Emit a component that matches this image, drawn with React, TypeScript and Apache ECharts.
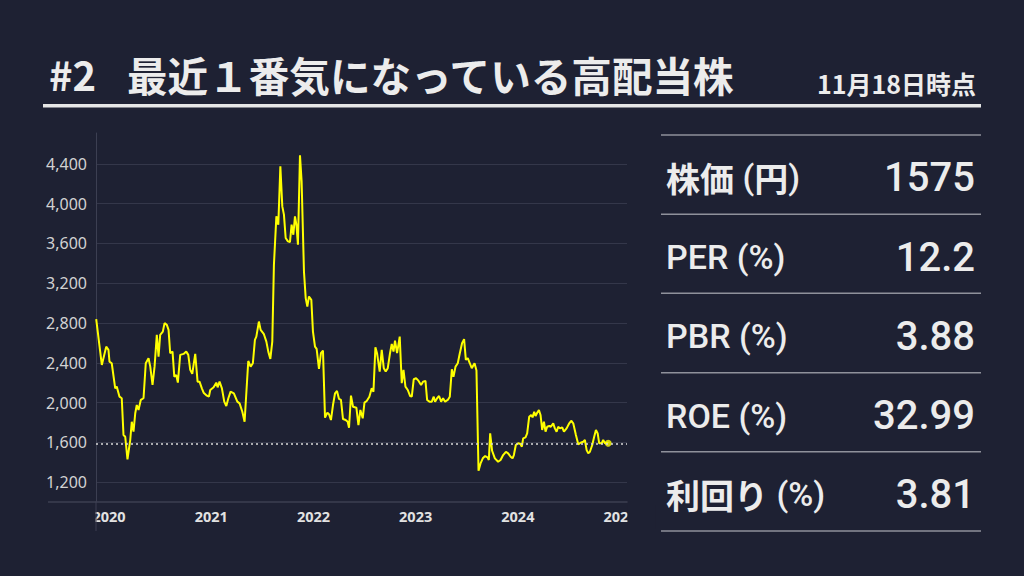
import { useEffect, useRef } from "react";
import * as echarts from "echarts";

const titleNo = "#2";
const titleText = "最近１番気になっている高配当株";
const asOfText = "11月18日時点";

const xTicks = [2020, 2021, 2022, 2023, 2024, 2025];
const yTicks = [1200, 1600, 2000, 2400, 2800, 3200, 3600, 4000, 4400];

// time in fractional years
const years = [
  2019.874, 2019.929, 2019.972, 2019.994, 2020.004, 2020.026, 2020.06, 2020.075, 2020.102, 2020.124,
  2020.141, 2020.158, 2020.18, 2020.207, 2020.222, 2020.239, 2020.256, 2020.271, 2020.288, 2020.31,
  2020.337, 2020.359, 2020.386, 2020.403, 2020.425, 2020.445, 2020.467, 2020.484, 2020.5, 2020.526,
  2020.543, 2020.565, 2020.582, 2020.598, 2020.621, 2020.638, 2020.657, 2020.673, 2020.696, 2020.729,
  2020.755, 2020.775, 2020.794, 2020.814, 2020.843, 2020.866, 2020.885, 2020.908, 2020.925, 2020.957,
  2020.977, 2020.99, 2021.023, 2021.049, 2021.062, 2021.081, 2021.104, 2021.127, 2021.147, 2021.167,
  2021.189, 2021.221, 2021.255, 2021.277, 2021.304, 2021.326, 2021.362, 2021.385, 2021.407, 2021.427,
  2021.441, 2021.466, 2021.483, 2021.515, 2021.539, 2021.558, 2021.578, 2021.597, 2021.613, 2021.637,
  2021.656, 2021.676, 2021.695, 2021.711, 2021.728, 2021.75, 2021.77, 2021.786, 2021.803, 2021.819,
  2021.833, 2021.848, 2021.868, 2021.884, 2021.907, 2021.924, 2021.94, 2021.956, 2021.979, 2021.995,
  2022.015, 2022.031, 2022.054, 2022.073, 2022.093, 2022.113, 2022.136, 2022.152, 2022.171, 2022.191,
  2022.211, 2022.23, 2022.25, 2022.269, 2022.289, 2022.315, 2022.335, 2022.348, 2022.367, 2022.387,
  2022.42, 2022.44, 2022.459, 2022.482, 2022.499, 2022.521, 2022.547, 2022.57, 2022.587, 2022.606,
  2022.622, 2022.648, 2022.668, 2022.688, 2022.707, 2022.727, 2022.749, 2022.766, 2022.783, 2022.798,
  2022.818, 2022.844, 2022.864, 2022.881, 2022.9, 2022.923, 2022.945, 2022.962, 2022.981, 2023.004,
  2023.027, 2023.053, 2023.072, 2023.096, 2023.112, 2023.135, 2023.158, 2023.177, 2023.19, 2023.21,
  2023.229, 2023.249, 2023.268, 2023.288, 2023.314, 2023.334, 2023.354, 2023.37, 2023.39, 2023.412,
  2023.432, 2023.454, 2023.474, 2023.491, 2023.51, 2023.53, 2023.549, 2023.576, 2023.595, 2023.615,
  2023.635, 2023.657, 2023.68, 2023.703, 2023.716, 2023.729, 2023.748, 2023.775, 2023.807, 2023.831,
  2023.856, 2023.883, 2023.905, 2023.929, 2023.948, 2023.961, 2023.98, 2024.003, 2024.026, 2024.039,
  2024.052, 2024.075, 2024.091, 2024.111, 2024.13, 2024.144, 2024.16, 2024.173, 2024.189, 2024.206,
  2024.222, 2024.238, 2024.255, 2024.271, 2024.287, 2024.307, 2024.323, 2024.346, 2024.362, 2024.379,
  2024.395, 2024.411, 2024.434, 2024.451, 2024.477, 2024.503, 2024.522, 2024.542, 2024.568, 2024.591,
  2024.614, 2024.64, 2024.656, 2024.673, 2024.689, 2024.705, 2024.728, 2024.747, 2024.764, 2024.781,
  2024.796, 2024.82, 2024.835, 2024.852, 2024.875, 2024.884,
];

const prices = [
  2838, 2378, 2562, 2530, 2411, 2395, 2143, 2160, 2059, 2043,
  1673, 1656, 1429, 1623, 1807, 1707, 1892, 1975, 1925, 2026,
  2043, 2395, 2446, 2361, 2177, 2361, 2680, 2462, 2680, 2713,
  2798, 2781, 2731, 2496, 2512, 2260, 2277, 2200, 2479, 2489,
  2512, 2479, 2328, 2288, 2489, 2210, 2210, 2143, 2099, 2069,
  2059, 2126, 2153, 2200, 2153, 2210, 2143, 2009, 1965, 2043,
  2109, 2093, 2009, 1992, 1908, 1807, 2418, 2361, 2395, 2630,
  2663, 2814, 2731, 2687, 2613, 2512, 2439, 2613, 3385, 3872,
  3788, 4375, 3972, 3889, 3654, 3620, 3613, 3788, 3687, 3872,
  3788, 3587, 4486, 4224, 3318, 3050, 2965, 3066, 3033, 2713,
  2562, 2539, 2338, 2496, 2522, 1848, 1898, 1882, 1824, 1975,
  2093, 2116, 2036, 2026, 1834, 1824, 1807, 1747, 2069, 1958,
  1948, 1774, 1925, 1841, 1999, 2016, 2059, 2143, 2109, 2556,
  2496, 2311, 2529, 2345, 2311, 2345, 2496, 2590, 2512, 2623,
  2496, 2663, 2194, 2328, 2160, 2126, 2066, 2059, 2234, 2244,
  2220, 2177, 2210, 2217, 2026, 2009, 2009, 2059, 2009, 2043,
  2066, 2009, 2043, 2009, 2026, 2059, 2335, 2260, 2361, 2395,
  2496, 2597, 2637, 2429, 2446, 2395, 2345, 2395, 2321, 1314,
  1388, 1439, 1462, 1449, 1422, 1690, 1515, 1439, 1405, 1422,
  1472, 1505, 1489, 1455, 1439, 1472, 1573, 1590, 1583, 1556,
  1640, 1650, 1690, 1858, 1875, 1851, 1908, 1865, 1898, 1925,
  1875, 1724, 1807, 1707, 1757, 1764, 1757, 1791, 1740, 1707,
  1757, 1740, 1751, 1707, 1740, 1791, 1817, 1791, 1673, 1580,
  1596, 1606, 1623, 1522, 1489, 1505, 1573, 1656, 1724, 1690,
  1590, 1590, 1623, 1590, 1596, 1590,
];

const tableLabels = ["株価 (円)", "PER (%)", "PBR (%)", "ROE (%)", "利回り (%)"];
const tableValues = ["1575", "12.2", "3.88", "32.99", "3.81"];

const BG = "#1e2133";
const AXIS = "#3c3f52";
const GRID = "#34374a";
const CJK = "'Noto Sans CJK JP', 'Noto Sans', sans-serif";
const LAT = "Roboto, 'Noto Sans CJK JP', sans-serif";

// wrap runs of CJK characters in a rich-text tag so they can be drawn bold
function toRich(s: string): string {
  return s.replace(/([\u3000-\u9fff\uff00-\uffef]+)/g, "{c|$1}");
}

export default function App() {
  const ref = useRef<HTMLDivElement>(null);

  useEffect(() => {
    if (!ref.current) return;
    const chart = echarts.init(ref.current, null, { renderer: "svg" });
    const data = years.map((y, i) => [y, prices[i]]);
    const last = data[data.length - 1];

    const lineYs = [135, 214.3, 293.3, 372.7, 451.7, 531];
    const textYs = [177, 257, 336, 415.5, 494];

    const graphics: any[] = [
      {
        type: "text",
        x: 49,
        y: 74,
        style: { text: titleNo, fill: "#ececec", font: `bold 40px ${CJK}`, verticalAlign: "middle" },
      },
      {
        type: "text",
        x: 127,
        y: 74,
        style: { text: titleText, fill: "#ececec", font: `bold 40.6px ${CJK}`, verticalAlign: "middle" },
      },
      {
        type: "text",
        x: 976,
        y: 83,
        style: { text: asOfText, fill: "#ececec", font: `bold 25px ${CJK}`, align: "right", verticalAlign: "middle" },
      },
      { type: "rect", shape: { x: 43, y: 104, width: 938, height: 3.5 }, style: { fill: "#e6e6e6" } },
      // axis extensions
      { type: "line", z: 50, shape: { x1: 48, y1: 502, x2: 96, y2: 502 }, style: { stroke: AXIS, lineWidth: 1.5 } },
      { type: "line", z: 50, shape: { x1: 96, y1: 502, x2: 96, y2: 531 }, style: { stroke: AXIS, lineWidth: 1 } },
      // clip x labels at plot edges
      { type: "rect", z: 40, shape: { x: 56, y: 505, width: 39.5, height: 24 }, style: { fill: BG } },
      { type: "rect", z: 40, shape: { x: 627.5, y: 505, width: 28, height: 24 }, style: { fill: BG } },
    ];

    lineYs.forEach((y) => {
      graphics.push({
        type: "line",
        shape: { x1: 661, y1: y, x2: 981, y2: y },
        style: { stroke: "#8f919b", lineWidth: 1.5 },
      });
    });
    tableLabels.forEach((t, i) => {
      graphics.push({
        type: "text",
        x: 666,
        y: textYs[i],
        style: {
          text: toRich(t),
          fill: "#ececec",
          font: `500 34px ${LAT}`,
          verticalAlign: "middle",
          rich: {
            c: { font: `bold 34px ${CJK}`, fill: "#ececec" },
          },
        },
      });
      graphics.push({
        type: "text",
        x: 975,
        y: textYs[i],
        style: { text: tableValues[i], fill: "#ececec", font: `500 40px ${LAT}`, align: "right", verticalAlign: "middle" },
      });
    });

    chart.setOption({
      animation: false,
      backgroundColor: BG,
      grid: { left: 96, right: 397, top: 133, bottom: 74, containLabel: false },
      xAxis: {
        type: "value",
        min: 2019.872,
        max: 2025.068,
        axisLine: { show: true, lineStyle: { color: AXIS, width: 1.5 } },
        axisTick: { show: false, customValues: xTicks },
        splitLine: { show: false },
        axisLabel: {
          customValues: xTicks,
          formatter: (v: number) => String(Math.round(v)),
          color: "#e2e2e2",
          fontSize: 14.5,
          fontWeight: "bold",
          fontFamily: "'Noto Sans', sans-serif",
          margin: 6,
          showMinLabel: true,
          showMaxLabel: true,
          hideOverlap: false,
        },
      },
      yAxis: {
        type: "value",
        min: 1000,
        max: 4710,
        axisLine: { show: true, lineStyle: { color: AXIS, width: 1 } },
        axisTick: { show: false, customValues: yTicks },
        splitLine: { show: true, lineStyle: { color: GRID, width: 1.2 } },
        axisLabel: {
          customValues: yTicks,
          formatter: (v: number) => v.toLocaleString("en-US"),
          color: "#d2d2d2",
          fontSize: 16,
          fontFamily: "'Noto Sans', sans-serif",
          margin: 9,
        },
      },
      series: [
        {
          type: "line",
          data,
          showSymbol: false,
          lineStyle: { color: "#ffff00", width: 2 },
          z: 3,
          markLine: {
            silent: true,
            symbol: "none",
            label: { show: false },
            lineStyle: { color: "#d8d8d8", type: [2, 3], width: 1.5 },
            data: [{ yAxis: last[1] }],
          },
        },
        {
          type: "scatter",
          data: [last],
          symbol: "circle",
          symbolSize: 7,
          itemStyle: { color: "#ffff00" },
          z: 4,
        },
      ],
      graphic: graphics,
    });

    return () => chart.dispose();
  }, []);

  return <div ref={ref} style={{ position: "absolute", left: 0, top: 0, width: 1024, height: 576 }} />;
}
